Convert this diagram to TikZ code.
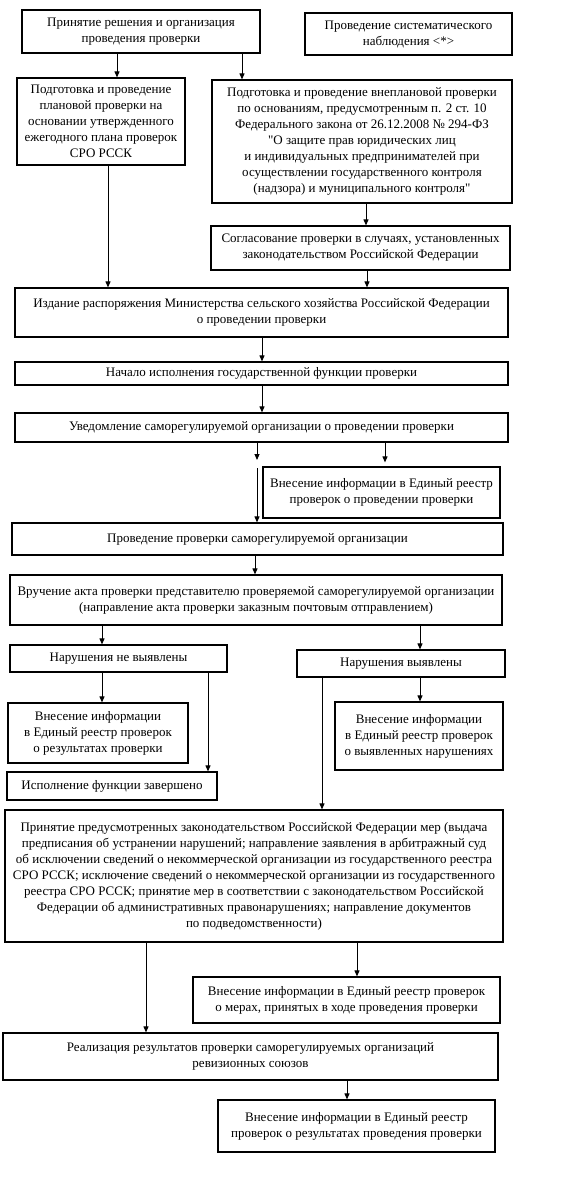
\documentclass[tikz,border=0pt]{standalone}
\usepackage{fontspec}
\newfontfamily\boxfont{Liberation Serif}
\usetikzlibrary{arrows.meta}
\tikzset{box/.style={draw,rectangle,line width=1.2pt,inner sep=0pt,align=center,font=\boxfont\fontsize{13}{16}\selectfont,}}
\tikzset{link/.style={->,line width=0.9pt,}}
\tikzset{
	>={Triangle[length=6pt,width=5pt]},
	x=1pt,
	y=-1pt,
}

\begin{document}
\begin{tikzpicture}
\fill[white] (0,0) rectangle (565,1181);
\useasboundingbox (0,0) rectangle (565,1181);

\node[box,minimum width=238pt,minimum height=43pt](decision) at(141,31.5) {Принятие решения и организация\\проведения проверки};
\node[box,minimum width=207pt,minimum height=42pt](watch) at(408.5,34) {Проведение систематического\\наблюдения <*>};

\node[box,minimum width=168pt,minimum height=87pt](planned) at(101,121.5) {Подготовка и проведение\\плановой проверки на\\основании утвержденного\\ежегодного плана проверок\\СРО РССК};
\node[box,minimum width=300pt,minimum height=123pt](unplanned) at(362,141.5) {Подготовка и проведение внеплановой проверки\\по основаниям, предусмотренным п. 2 ст. 10\\Федерального закона от 26.12.2008 № 294-ФЗ\\"О защите прав юридических лиц\\и индивидуальных предпринимателей при\\осуществлении государственного контроля\\(надзора) и муниципального контроля"};
\node[box,minimum width=299pt,minimum height=44pt](agree) at(360.5,248) {Согласование проверки в случаях, установленных\\законодательством Российской Федерации};

\node[box,minimum width=493pt,minimum height=49pt](order) at(261.5,312.5) {Издание распоряжения Министерства сельского хозяйства Российской Федерации\\о проведении проверки};
\node[box,minimum width=493pt,minimum height=23pt](start) at(261.5,373.5) {Начало исполнения государственной функции проверки};
\node[box,minimum width=493pt,minimum height=29pt](notify) at(261.5,427.5) {Уведомление саморегулируемой организации о проведении проверки};
\node[box,minimum width=237pt,minimum height=51pt](reg1) at(381.5,492.5) {Внесение информации в Единый реестр\\проверок о проведении проверки};
\node[box,minimum width=491pt,minimum height=32pt](inspect) at(257.5,539) {Проведение проверки саморегулируемой организации};
\node[box,minimum width=492pt,minimum height=50pt](act) at(256,600) {Вручение акта проверки представителю проверяемой саморегулируемой организации\\(направление акта проверки заказным почтовым отправлением)};

\node[box,minimum width=217pt,minimum height=27pt](clean) at(118.5,658.5) {Нарушения не выявлены};
\node[box,minimum width=208pt,minimum height=27pt](found) at(401,663.5) {Нарушения выявлены};
\node[box,minimum width=180pt,minimum height=60pt](reg2) at(98,733) {Внесение информации\\в Единый реестр проверок\\о результатах проверки};
\node[box,minimum width=210pt,minimum height=28pt](done) at(112,786) {Исполнение функции завершено};
\node[box,minimum width=168pt,minimum height=68pt](reg3) at(419,736) {Внесение информации\\в Единый реестр проверок\\о выявленных нарушениях};

\node[box,minimum width=498pt,minimum height=132pt](measures) at(254,876) {Принятие предусмотренных законодательством Российской Федерации мер (выдача\\предписания об устранении нарушений; направление заявления в арбитражный суд\\об исключении сведений о некоммерческой организации из государственного реестра\\СРО РССК; исключение сведений о некоммерческой организации из государственного\\реестра СРО РССК; принятие мер в соответствии с законодательством Российской\\Федерации об административных правонарушениях; направление документов\\по подведомственности)};
\node[box,minimum width=307pt,minimum height=46pt](reg4) at(346.5,1000) {Внесение информации в Единый реестр проверок\\о мерах, принятых в ходе проведения проверки};
\node[box,minimum width=495pt,minimum height=47pt](realize) at(250.5,1056.5) {Реализация результатов проверки саморегулируемых организаций\\ревизионных союзов};
\node[box,minimum width=277pt,minimum height=52pt](reg5) at(356.5,1126) {Внесение информации в Единый реестр\\проверок о результатах проведения проверки};

\coordinate(gapA) at(257,460);
\coordinate(gapB) at(257,468);

\draw[link] (117,0 |- decision.south) -- (117,0 |- planned.north);
\draw[link] (242,0 |- decision.south) -- (242,0 |- unplanned.north);
\draw[link] (108,0 |- planned.south) -- (108,0 |- order.north);
\draw[link] (366,0 |- unplanned.south) -- (366,0 |- agree.north);
\draw[link] (367,0 |- agree.south) -- (367,0 |- order.north);
\draw[link] (262,0 |- order.south) -- (262,0 |- start.north);
\draw[link] (262,0 |- start.south) -- (262,0 |- notify.north);
\draw[link] (257,0 |- notify.south) -- (gapA);
\draw[link] (gapB) -- (257,0 |- inspect.north);
\draw[link,shorten >=4pt] (385,0 |- notify.south) -- (385,0 |- reg1.north);
\draw[link] (255,0 |- inspect.south) -- (255,0 |- act.north);
\draw[link] (102,0 |- act.south) -- (102,0 |- clean.north);
\draw[link] (420,0 |- act.south) -- (420,0 |- found.north);
\draw[link] (102,0 |- clean.south) -- (102,0 |- reg2.north);
\draw[link] (208,0 |- clean.south) -- (208,0 |- done.north);
\draw[link] (322,0 |- found.south) -- (322,0 |- measures.north);
\draw[link] (420,0 |- found.south) -- (420,0 |- reg3.north);
\draw[link] (146,0 |- measures.south) -- (146,0 |- realize.north);
\draw[link] (357,0 |- measures.south) -- (357,0 |- reg4.north);
\draw[link] (347,0 |- realize.south) -- (347,0 |- reg5.north);

\end{tikzpicture}
\end{document}
